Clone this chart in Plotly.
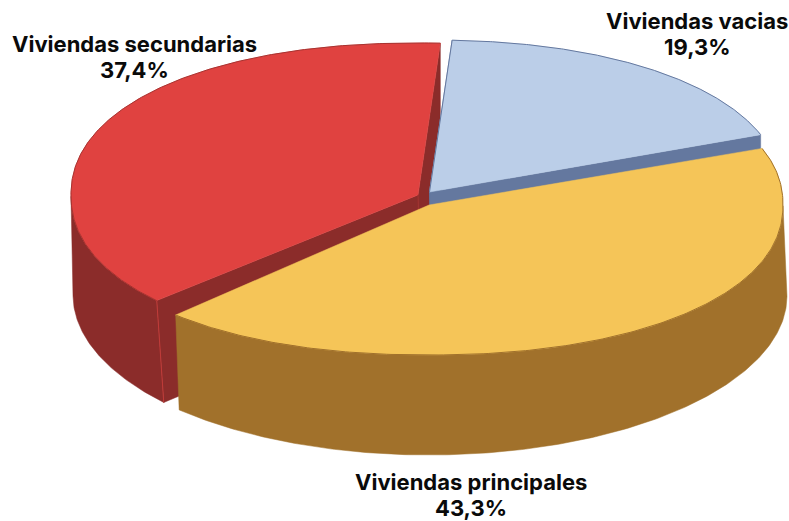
import numpy as np
import plotly.graph_objects as go

categories = ["Viviendas vacias", "Viviendas principales", "Viviendas secundarias"]
values = [19.3, 43.3, 37.4]

# drawing styles / geometry of the tilted pie (pixel-like axis units)
top_colors = ["#BBCEE8", "#F5C558", "#E04240"]
side_colors = ["#64789F", "#A1712B", "#8B2C2A"]
edge_colors = ["#64789F", "#A1712B", "#A8322F"]
centers = [(429.5, 192), (429, 205), (418, 195)]
radii = [(352, 152), (354, 150), (347, 152)]
bottom_centers = [(429, 290), (429, 296), (418, 295)]
bottom_radii = [(358, 158), (358, 159), (345, 159)]
top_exponent = 0.93
bottom_exponent = 1.0
warp_terms = (1.15, 0.22, 1.63)
end_nudges = [(0, 0), (0, -2.2), (1.2, 0)]
side_from = [0, 90, 0]
side_to = [360, 360, 270]
label_pos = [(697, 21), (471, 482), (134, 44)]
label_gaps = [26, 26, 26]


def angles(i):
    cum = np.cumsum([0] + values) / sum(values) * 360
    t = np.radians(np.linspace(cum[i] + end_nudges[i][0], cum[i + 1] + end_nudges[i][1], 240))
    a, b, c = warp_terms
    return t + np.radians(a + b * np.cos(t) + c * np.cos(2 * t))


def arc(i, center, radius, exponent):
    t = angles(i)
    s, c = np.sin(t), np.cos(t)
    return (center[0] + radius[0] * np.sign(s) * np.abs(s) ** exponent,
            center[1] - radius[1] * np.sign(c) * np.abs(c) ** exponent)


def poly(fig, x, y, fill):
    fig.add_trace(go.Scatter(
        x=list(x) + [x[0]], y=list(y) + [y[0]], mode="lines", fill="toself",
        fillcolor=fill, line=dict(color=fill, width=0.5),
        hoverinfo="skip", showlegend=False))


def stroke(fig, x, y, color, w=1):
    fig.add_trace(go.Scatter(x=list(x), y=list(y), mode="lines",
                             line=dict(color=color, width=w),
                             hoverinfo="skip", showlegend=False))


fig = go.Figure()
# paint order, back to front: red, blue, yellow
for i in [2, 0, 1]:
    ax, ay = arc(i, centers[i], radii[i], top_exponent)
    bx, by = arc(i, bottom_centers[i], bottom_radii[i], bottom_exponent)
    cx, cy = centers[i]
    ox, oy = cx + 2, bottom_centers[i][1]
    deg = np.degrees(angles(i))
    keep = (deg >= side_from[i]) & (deg <= side_to[i])
    if i != 0:
        poly(fig, np.r_[ax[keep], bx[keep][::-1]], np.r_[ay[keep], by[keep][::-1]], side_colors[i])
    if i != 1:
        poly(fig, [cx, ax[0], bx[0], ox], [cy, ay[0], by[0], oy], side_colors[i])
        poly(fig, [cx, ax[-1], ax[-1], ox], [cy, ay[-1], ay[-1] + 98, oy], side_colors[i])
    poly(fig, np.r_[cx, ax], np.r_[cy, ay], top_colors[i])
    if i == 2:
        stroke(fig, [ax[0], bx[0]], [ay[0], by[0]], "#C23B38", 1)
        stroke(fig, [cx, ox], [cy, oy], "#A3322F", 1)
    stroke(fig, ax, ay, edge_colors[i], 1)
    if i == 0:
        stroke(fig, [cx, ax[0]], [cy, ay[0]], edge_colors[i], 1)

for name, val, (lx, ly), gap in zip(categories, values, label_pos, label_gaps):
    for txt, yy in [(name, ly), (f"{val:.1f}%".replace(".", ","), ly + gap)]:
        fig.add_annotation(x=lx, y=yy, text=f"<b>{txt}</b>", showarrow=False,
                           font=dict(family="Inter", size=22, color="#0a0a0a"),
                           xanchor="center", yanchor="middle")

fig.update_xaxes(range=[0, 789], visible=False)
fig.update_yaxes(range=[521, 0], visible=False)
fig.update_layout(width=789, height=521, margin=dict(l=0, r=0, t=0, b=0),
                  plot_bgcolor="white", paper_bgcolor="white")
fig.write_html("out.html", config={"displayModeBar": False},
               post_script="document.body.style.margin='0';")
